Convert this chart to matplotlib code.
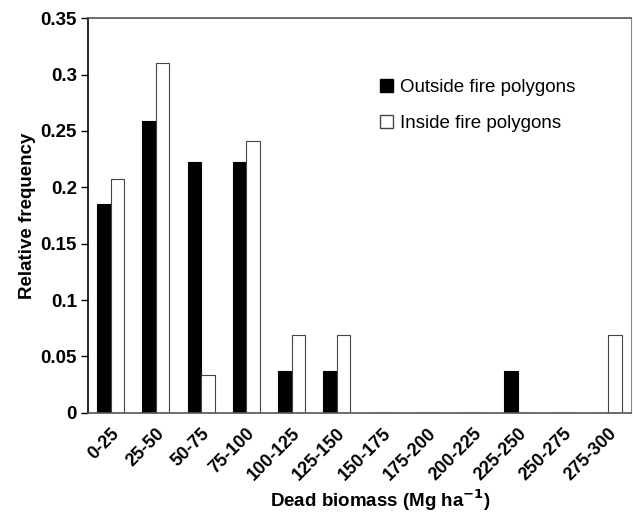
import numpy as np
import matplotlib.pyplot as plt
from matplotlib.patches import Patch
from matplotlib.transforms import ScaledTranslation

plt.rcParams['font.family'] = ['Liberation Sans', 'DejaVu Sans']

bins = ["0-25", "25-50", "50-75", "75-100", "100-125", "125-150",
        "150-175", "175-200", "200-225", "225-250", "250-275", "275-300"]
outside = [0.185, 0.259, 0.222, 0.222, 0.037, 0.037, 0, 0, 0, 0.037, 0, 0]
inside = [0.207, 0.310, 0.034, 0.241, 0.069, 0.069, 0, 0, 0, 0, 0, 0.069]

fig = plt.figure(figsize=(6.33, 5.18), dpi=100)
ax = fig.add_axes([0.139, 0.203, 0.858, 0.762])

x = np.arange(len(bins))
w = 0.3
ax.bar(x - w/2, outside, w, color='black', edgecolor='black', linewidth=0.8)
ax.bar(x + w/2, inside, w, color='white', edgecolor='#444444', linewidth=0.8)

ax.set_xlim(-0.5, len(bins) - 0.5)
ax.set_ylim(0, 0.35)
ax.set_yticks(np.arange(0, 0.351, 0.05))
ax.set_yticklabels(["0", "0.05", "0.1", "0.15", "0.2", "0.25", "0.3", "0.35"],
                   fontsize=13.5, fontweight='bold')
ax.set_xticks(x)
ax.set_xticklabels(bins, rotation=45, ha='right', rotation_mode='anchor',
                   fontsize=13, fontweight='bold')
# nudge rotated labels a little to the left
shift = ScaledTranslation(-4/72, 0, fig.dpi_scale_trans)
for lab in ax.get_xticklabels():
    lab.set_transform(lab.get_transform() + shift)
ax.tick_params(axis='x', length=0, pad=9)
ax.tick_params(axis='y', length=5, width=1, direction='out', pad=3)

ax.spines['left'].set_color('black')
ax.spines['left'].set_linewidth(1.2)
ax.spines['bottom'].set_color('#555555')
ax.spines['bottom'].set_linewidth(1.2)
ax.spines['top'].set_color('#555555')
ax.spines['top'].set_linewidth(1.2)
ax.spines['right'].set_color('#888888')
ax.spines['right'].set_linewidth(0.8)

ax.set_ylabel("Relative frequency", fontsize=13.5, fontweight='bold', labelpad=3)
ax.set_xlabel("Dead biomass (Mg ha$^{\\mathbf{-1}}$)", fontsize=13.5, fontweight='bold')
ax.xaxis.set_label_coords(0.538, -0.19)

handles = [Patch(facecolor='black', edgecolor='black', label='Outside fire polygons'),
           Patch(facecolor='white', edgecolor='#444444', label='Inside fire polygons')]
ax.legend(handles=handles, loc='upper left', bbox_to_anchor=(0.538, 0.845), frameon=False,
          fontsize=13.5, handlelength=0.7, handleheight=0.7, handletextpad=0.35,
          labelspacing=1.0, borderpad=0, borderaxespad=0)

fig.savefig("out.png", dpi=100)
